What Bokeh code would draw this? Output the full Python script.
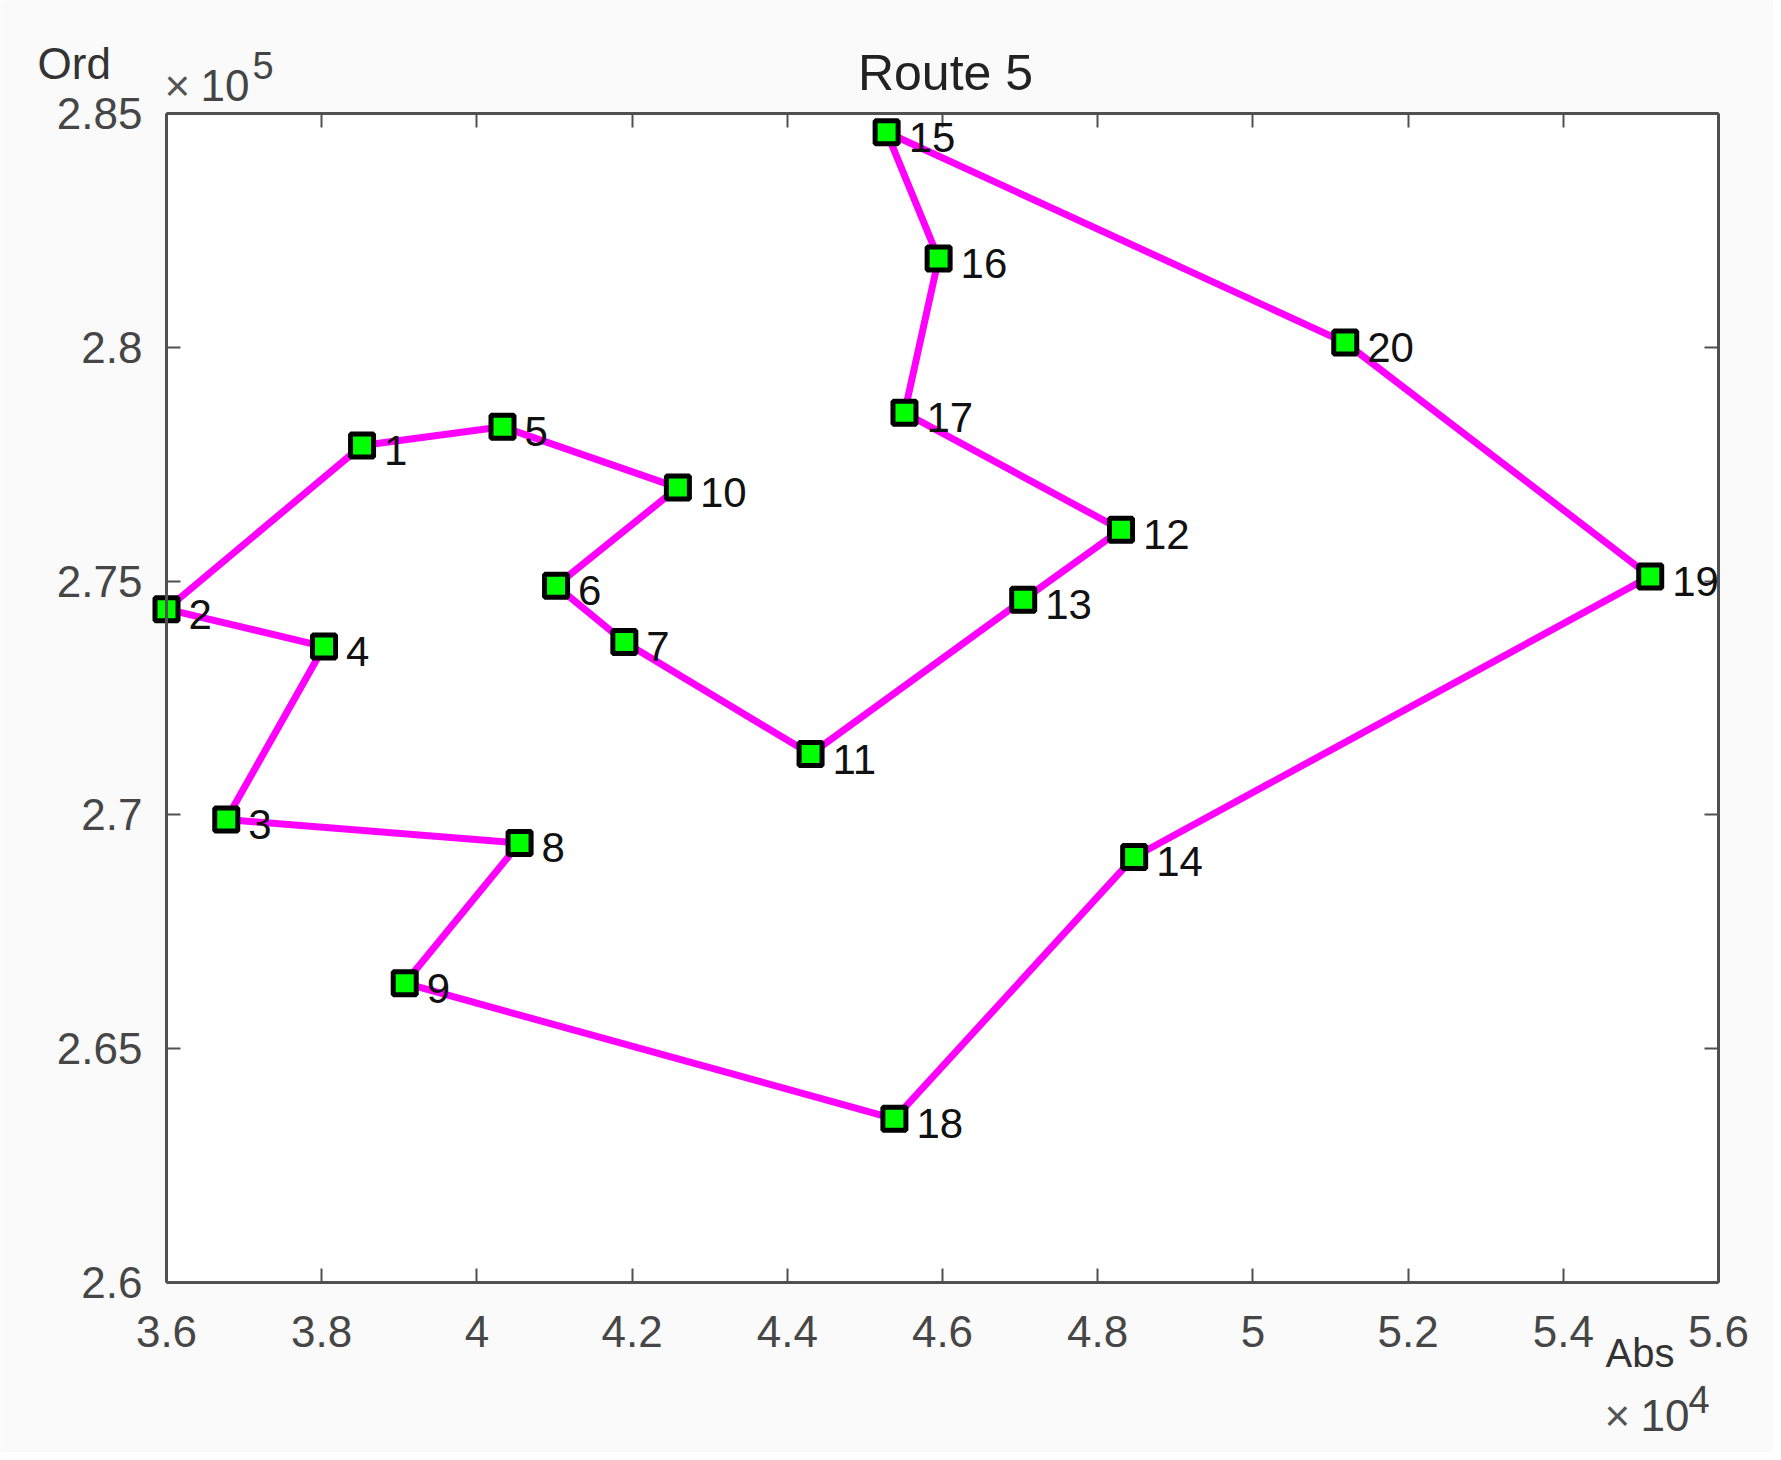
from bokeh.plotting import figure
from bokeh.models import (ColumnDataSource, LabelSet, Label, LinearAxis, BoxAnnotation,
                          FixedTicker, CustomJSTickFormatter, Range1d)
from bokeh.core.properties import value
from bokeh.embed import file_html
from bokeh.resources import INLINE

# ---------------- data (x in units of 1e4, y in units of 1e5) ----------------
node_ids = list(range(1, 21))
node_x = [3.852, 3.600, 3.677, 3.803, 4.033, 4.102, 4.190, 4.055, 3.907, 4.259,
          4.430, 4.830, 4.704, 4.847, 4.528, 4.595, 4.551, 4.538, 5.512, 5.119]
node_y = [2.779, 2.744, 2.699, 2.736, 2.783, 2.749, 2.737, 2.694, 2.664, 2.770,
          2.713, 2.761, 2.746, 2.691, 2.846, 2.819, 2.786, 2.635, 2.751, 2.801]
route = [15, 16, 17, 12, 13, 11, 7, 6, 10, 5, 1, 2, 4, 3, 8, 9, 18, 14, 19, 20, 15]
x_ticks = [3.6, 3.8, 4.0, 4.2, 4.4, 4.6, 4.8, 5.0, 5.2, 5.4, 5.6]
y_ticks = [2.6, 2.65, 2.7, 2.75, 2.8, 2.85]
title_text = "Route 5"
x_name = "Abs"
y_name = "Ord"

# ---------------- layout ----------------
FONT = "Liberation Sans"
# pixel box of the axes area inside the canvas
BL, BT, BW, BH = 166, 113, 1552, 1169
W, H = 1773, 1452
X0, X1 = x_ticks[0], x_ticks[-1]
Y0, Y1 = y_ticks[0], y_ticks[-1]
xpp = (X1 - X0) / BW
ypp = (Y1 - Y0) / BH
x_start, x_end = X0 - BL * xpp, X1 + (W - BL - BW) * xpp
y_end, y_start = Y1 + BT * ypp, Y0 - (H - BT - BH) * ypp

p = figure(width=W, height=H, output_backend="svg", toolbar_location=None,
           x_range=Range1d(x_start, x_end), y_range=Range1d(y_start, y_end),
           x_axis_location=None, y_axis_location=None, min_border=0)
p.xgrid.visible = False
p.ygrid.visible = False
p.outline_line_color = None
p.background_fill_color = "#fafafa"
p.border_fill_color = "#fafafa"

p.add_layout(BoxAnnotation(left=X0, right=X1, bottom=Y0, top=Y1, fill_color="white",
                           fill_alpha=1.0, line_color=None, level="underlay"))

fmt = CustomJSTickFormatter(code="return String(Math.round(tick*100)/100);")
blank = CustomJSTickFormatter(code="return '';")

AX_COL = "#505050"


def make_axis(ticks, formatter, standoff, loc, bounds):
    ax = LinearAxis(ticker=FixedTicker(ticks=ticks), formatter=formatter,
                    fixed_location=loc, bounds=bounds)
    ax.axis_line_color = AX_COL
    ax.axis_line_width = 3
    ax.major_tick_line_color = AX_COL
    ax.major_tick_line_width = 2
    ax.major_tick_in = 14
    ax.major_tick_out = 0
    ax.minor_tick_line_color = None
    ax.major_label_standoff = standoff
    ax.major_label_text_font = FONT
    ax.major_label_text_font_size = "44px"
    ax.major_label_text_color = "#464646"
    return ax


p.add_layout(make_axis(x_ticks, fmt, 33, Y0, (X0, X1)), "below")
p.add_layout(make_axis(y_ticks, fmt, 24, X0, (Y0, Y1)), "left")
p.add_layout(make_axis(x_ticks, blank, 0, Y1, (X0, X1)), "above")
p.add_layout(make_axis(y_ticks, blank, 0, X1, (Y0, Y1)), "right")

# route line
rx = [node_x[i - 1] for i in route]
ry = [node_y[i - 1] for i in route]
p.line(rx, ry, line_color="#ff00ff", line_width=7)

src = ColumnDataSource(dict(x=node_x, y=node_y, name=[str(i) for i in node_ids]))
p.scatter("x", "y", source=src, marker="square", size=23,
          fill_color="#00ff00", line_color="black", line_width=5)

labels = LabelSet(x="x", y="y", text="name", source=src, x_offset=22, y_offset=-5,
                  text_font=value(FONT), text_font_size="42px", text_color="#111111",
                  text_baseline="middle", text_align="left")
p.add_layout(labels)

DY = 15  # baseline correction


def add_label(txt, px, py, size, align="left", color="#333333"):
    # px, py: canvas pixels from the top-left corner
    p.add_layout(Label(x=x_start + px * xpp, y=y_end - (py - DY) * ypp,
                       text=txt, text_font=FONT,
                       text_font_size=size, text_color=color,
                       text_align=align, text_baseline="alphabetic"))


add_label(title_text, 945, 87, "50px", align="center", color="#222222")
add_label(y_name, 37, 78, "44px")
add_label("\u00d7", 164, 100, "44px", color="#555555")
add_label("10", 200, 100, "44px", color="#444444")
add_label("5", 252, 80, "38px", color="#444444")
add_label(x_name, 1605, 1367, "40px")
add_label("\u00d7", 1604, 1430, "44px", color="#555555")
add_label("10", 1640, 1430, "44px", color="#444444")
add_label("4", 1688, 1414, "38px", color="#444444")

open("out.html", "w").write(file_html(p, INLINE))
